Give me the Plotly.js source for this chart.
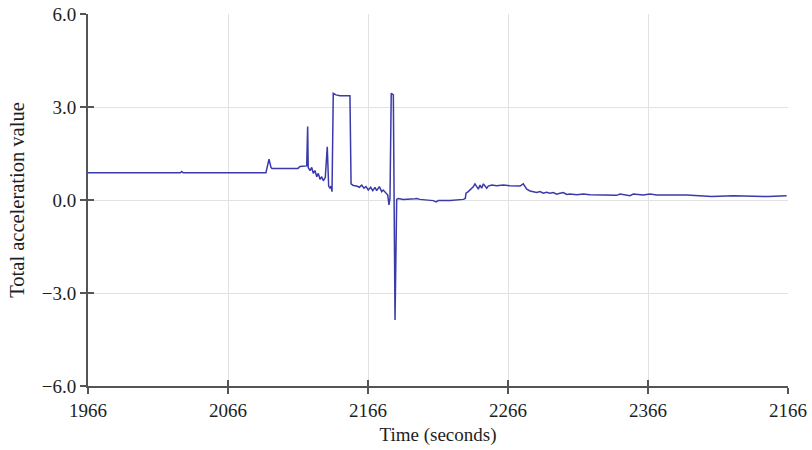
<!DOCTYPE html>
<html>
<head>
<meta charset="utf-8">
<script src="https://cdn.plot.ly/plotly-3.0.1.min.js"></script>
<style>html,body{margin:0;padding:0;background:#fff;}#chart{width:812px;height:450px;}</style>
</head>
<body>
<div id="chart"></div>
<script>
// Time (seconds)
const timeSec = [
  1966, 2032, 2033, 2034, 2093.1, 2095.3, 2096.7, 2097.4, 2116, 2117.4, 2122.2, 2122.9,
  2123.3, 2124.6, 2125.8, 2126.9, 2128.1, 2129.4, 2130.5, 2131.7, 2132.9, 2134.1, 2135.5,
  2136.9, 2137.9, 2138.9, 2139.6, 2140.3, 2141.2, 2143.1, 2146, 2153.1, 2153.9,
  2155.5, 2157.9, 2159.8, 2161.5, 2163.1, 2164.6, 2166.2, 2167.9, 2169.4, 2171, 2172.2,
  2174.1, 2175.8, 2176.9, 2178.9, 2180.1, 2181, 2181.7, 2182.6, 2184.1, 2185.3, 2186.5,
  2187.6, 2191.2, 2199.6, 2200.8, 2203.1, 2212.6, 2214.6, 2216.2, 2224.6, 2229.4, 2234.1,
  2235.5, 2236, 2237.6, 2238.9, 2240.1, 2241.2, 2242.4, 2243.6, 2244.8, 2246, 2247.2,
  2248.4, 2249.6, 2250.8, 2251.9, 2254.4, 2257.9, 2262.6, 2267.4, 2272.2, 2274.6, 2276.9,
  2278.1, 2279.4, 2281.7, 2284.1, 2286.5, 2288.9, 2291.2, 2293.6, 2296, 2298.4, 2300.8,
  2303.1, 2305.5, 2307.9, 2310.3, 2315.1, 2319.8, 2324.6, 2334.1, 2343.6, 2346, 2353.1,
  2355.5, 2362.6, 2367.4, 2372.2, 2381.7, 2393.6, 2411.5, 2426.9, 2451.9, 2465
];
// Total acceleration value
const accel = [
  0.88, 0.88, 0.92, 0.88, 0.88, 1.32, 1.05, 1.02, 1.02, 1.08, 1.10, 2.37,
  1.05, 0.95, 1.05, 0.86, 0.95, 0.75, 0.86, 0.67, 0.75, 0.62, 0.73,
  1.72, 0.45, 0.38, 0.45, 0.27, 3.44, 3.39, 3.36, 3.36, 0.52,
  0.47, 0.45, 0.41, 0.48, 0.38, 0.43, 0.32, 0.41, 0.30, 0.41, 0.30,
  0.43, 0.27, 0.32, 0.22, 0.16, -0.16, 0.05, 3.44, 3.39, -3.87, 0.02,
  0.05, 0.02, 0.04, 0.05, 0.02, -0.02, -0.06, -0.02, -0.02, 0.00, 0.02,
  0.05, 0.22, 0.27, 0.32, 0.38, 0.43, 0.52, 0.43, 0.35, 0.48, 0.38,
  0.52, 0.45, 0.38, 0.45, 0.48, 0.46, 0.48, 0.46, 0.45, 0.45, 0.52,
  0.43, 0.35, 0.29, 0.27, 0.24, 0.27, 0.22, 0.25, 0.22, 0.24, 0.19,
  0.22, 0.24, 0.18, 0.19, 0.17, 0.19, 0.17, 0.16, 0.15, 0.19, 0.14,
  0.19, 0.16, 0.19, 0.16, 0.16, 0.16, 0.11, 0.14, 0.11, 0.14
];
const xTickVals = [1966, 2066, 2166, 2266, 2366, 2466];
const xTickText = ['1966', '2066', '2166', '2266', '2366', '2166'];
const yTickVals = [-6, -3, 0, 3, 6];

const fontFam = '"Liberation Serif", "Times New Roman", serif';
const txtColor = '#1e1e1e';
const axisColor = '#555';

const trace = {
  x: timeSec, y: accel, type: 'scatter', mode: 'lines',
  line: {color: '#3a3aab', width: 1.5}, hoverinfo: 'skip'
};
// helper trace so the overlay axes (inner half of the crossing ticks) get drawn
const tickHelper = {
  x: [xTickVals[0]], y: [yTickVals[0]], xaxis: 'x2', yaxis: 'y2',
  type: 'scatter', mode: 'markers', marker: {opacity: 0, size: 1}, hoverinfo: 'skip'
};
const layout = {
  width: 812, height: 450,
  margin: {l: 88, r: 24, t: 14, b: 64},
  paper_bgcolor: '#ffffff', plot_bgcolor: '#ffffff',
  showlegend: false,
  font: {family: fontFam, size: 19, color: txtColor},
  xaxis: {
    range: [1966, 2466], tickmode: 'array', tickvals: xTickVals, ticktext: xTickText,
    showgrid: true, gridcolor: '#e2e2e2', gridwidth: 1, zeroline: false,
    showline: true, linecolor: axisColor, linewidth: 2,
    ticks: 'outside', ticklen: 6, tickcolor: axisColor, tickwidth: 1.5,
    tickfont: {family: fontFam, size: 19, color: txtColor},
    title: {text: 'Time (seconds)', font: {family: fontFam, size: 19, color: txtColor}, standoff: 8}
  },
  yaxis: {
    range: [-6, 6], tickmode: 'array', tickvals: yTickVals, tickformat: '.1f',
    showgrid: true, gridcolor: '#e2e2e2', gridwidth: 1, zeroline: false,
    showline: true, linecolor: axisColor, linewidth: 2,
    ticks: 'outside', ticklen: 6, tickcolor: axisColor, tickwidth: 1.5,
    tickfont: {family: fontFam, size: 19, color: txtColor},
    title: {text: 'Total acceleration value', font: {family: fontFam, size: 20.5, color: txtColor}, standoff: 12}
  },
  xaxis2: {
    overlaying: 'x', anchor: 'y', side: 'bottom', range: [1966, 2466],
    tickmode: 'array', tickvals: xTickVals, showticklabels: false,
    showgrid: false, zeroline: false, showline: false,
    ticks: 'inside', ticklen: 6, tickcolor: axisColor, tickwidth: 1.5
  },
  yaxis2: {
    overlaying: 'y', anchor: 'x', side: 'left', range: [-6, 6],
    tickmode: 'array', tickvals: yTickVals, showticklabels: false,
    showgrid: false, zeroline: false, showline: false,
    ticks: 'inside', ticklen: 6, tickcolor: axisColor, tickwidth: 1.5
  }
};
Plotly.newPlot('chart', [trace, tickHelper], layout, {staticPlot: true, displayModeBar: false});
</script>
</body>
</html>
